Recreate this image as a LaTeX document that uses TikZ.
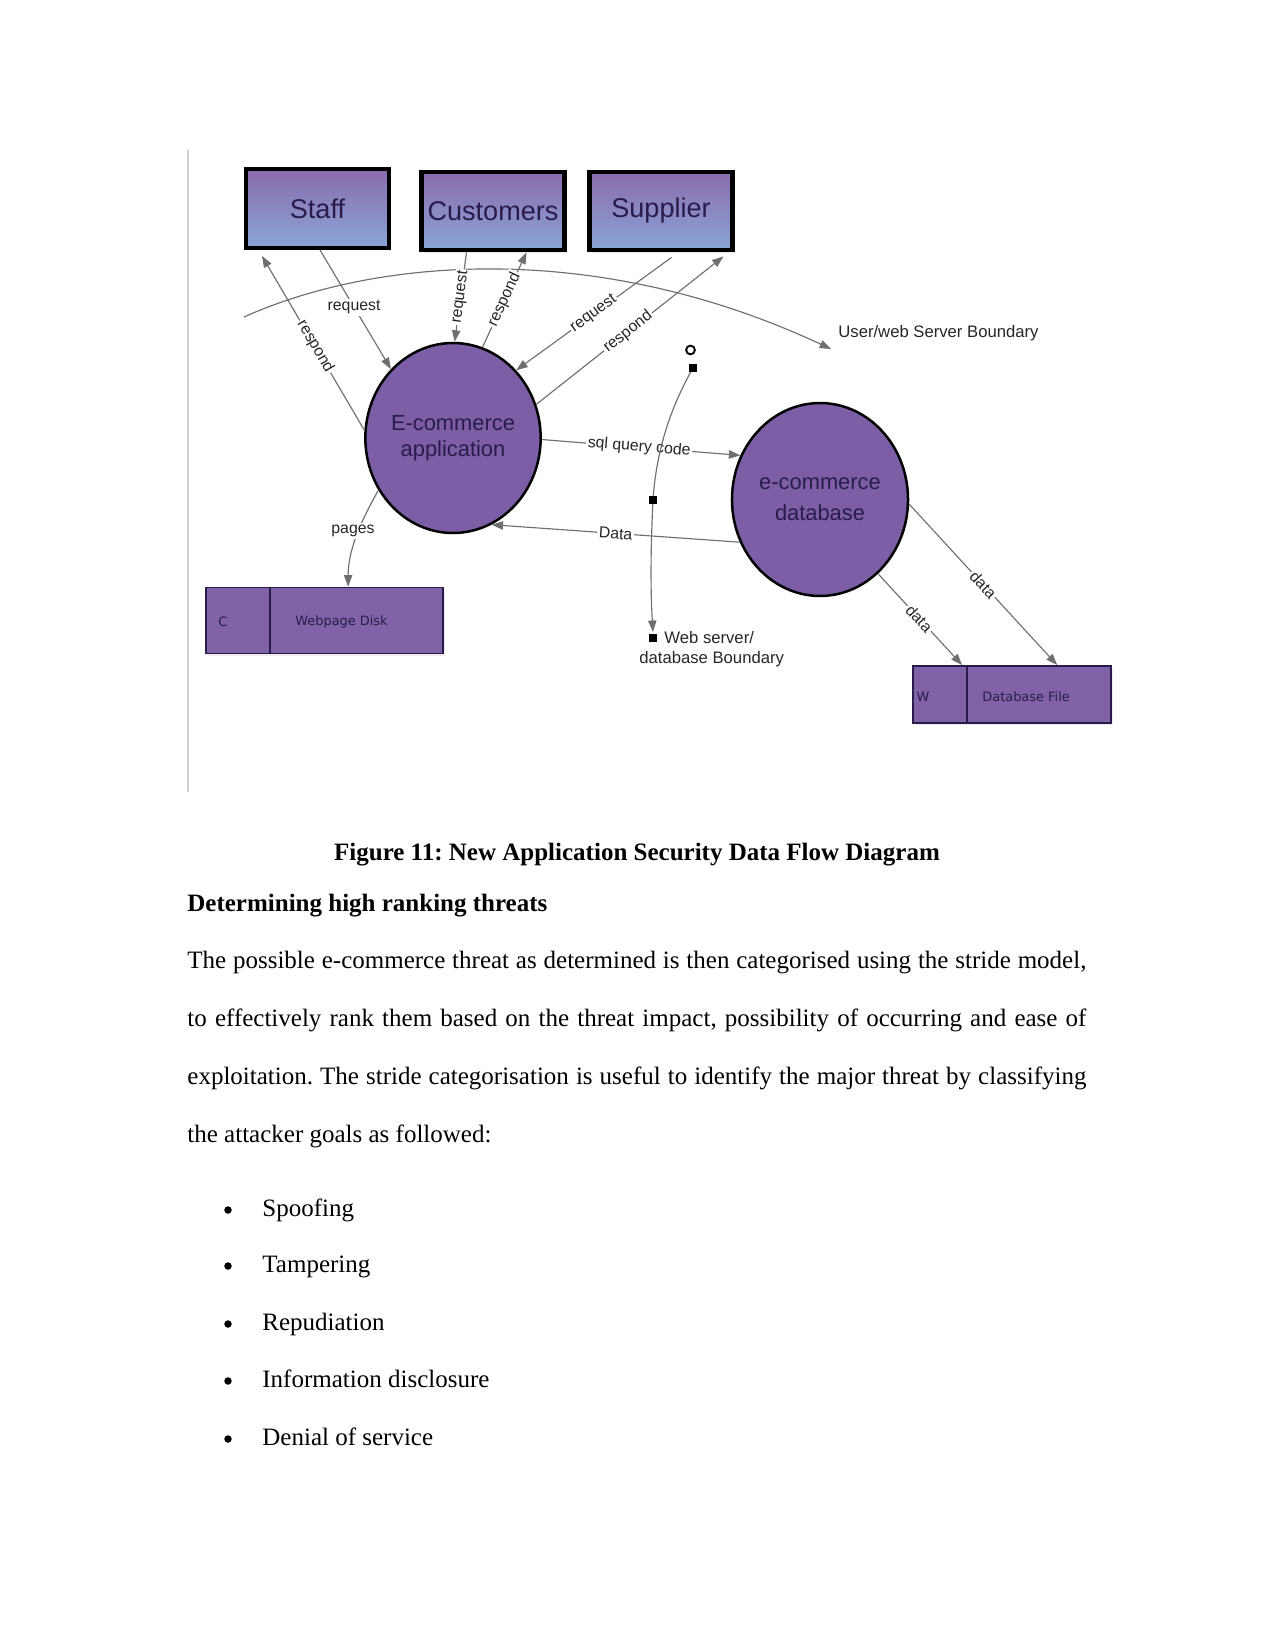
\documentclass[tikz,border=0pt]{standalone}
\usepackage{fontspec}
\setmainfont{Liberation Serif}
\newfontfamily\dsans{Liberation Sans}
\newfontfamily\dvsans{DejaVu Sans}
\usetikzlibrary{shapes.geometric,arrows.meta,calc,shadows}
\definecolor{boxtop}{HTML}{8A6BAE}
\definecolor{boxbot}{HTML}{8AA6D6}
\definecolor{procfill}{HTML}{7C5EA6}
\definecolor{storefill}{HTML}{7F62A8}
\definecolor{darktext}{HTML}{2A1C4A}
\definecolor{flowgray}{HTML}{6F6F6F}
\frenchspacing
\begin{document}
\frenchspacing
\begin{tikzpicture}[x=0.48pt,y=-0.48pt,
  entity/.style={draw=black, line width=2pt, top color=boxtop, bottom color=boxbot,
    minimum width=68.6pt, minimum height=37.8pt, inner sep=0pt,
    font=\dsans\fontsize{13}{15}\selectfont, text=darktext,
    drop shadow={opacity=0.2, shadow xshift=1.2pt, shadow yshift=-1.2pt}},
  proc/.style={ellipse, draw=black, line width=1.2pt, fill=procfill, inner sep=0pt,
    align=center, text=darktext},
  store/.style={draw=darktext, line width=0.8pt, fill=storefill, inner sep=0pt,
    drop shadow={opacity=0.15, shadow xshift=1pt, shadow yshift=-1pt}},
  storetxt/.style={font=\dvsans\fontsize{6.2}{7}\selectfont, text=darktext, inner sep=0pt},
  flow/.style={draw=flowgray, line width=0.55pt, -{Triangle[length=5.5pt,width=4pt]}},
  lbl/.style={font=\dsans\fontsize{7.6}{9}\selectfont, text=black!85, fill=white, inner sep=0.8pt},
  blbl/.style={font=\dsans\fontsize{8}{9.6}\selectfont, text=black!85, inner sep=0pt},
  sqmark/.style={fill=black, inner sep=0pt, minimum size=4pt},
  body/.style={font=\fontsize{12}{14}\selectfont, anchor=base west, inner sep=0pt},
]
\useasboundingbox (0,0) rectangle (1275,1650);

% left rule
\draw[black!18, line width=1pt] (188,150) -- (188,792);

% external entities
\node[entity] (staff) at (317.5,208.5) {Staff};
\node[entity] (cust) at (493,211) {Customers};
\node[entity] (supp) at (661,211) {Supplier};

% processes
\node[proc, minimum width=83.5pt, minimum height=91.2pt,
  font=\dsans\fontsize{10.5}{12.5}\selectfont] (app) at (453,438) {E-commerce\\application};
\node[proc, minimum width=84.5pt, minimum height=92.6pt,
  font=\dsans\fontsize{10.5}{15}\selectfont] (db) at (820,499.5) {e-commerce\\database};

% data stores
\node[store, minimum width=113.8pt, minimum height=31.7pt] (disk) at (324.5,620.5) {};
\draw[darktext, line width=0.8pt] ($(disk.north west)+(65,0)$) -- ($(disk.south west)+(65,0)$);
\node[storetxt] (diskc) at (223,622) {C};
\node[storetxt, anchor=west] (diskname) at (295,622) {Webpage Disk};

\node[store, minimum width=95pt, minimum height=27.4pt] (dbfile) at (1012,694.5) {};
\draw[darktext, line width=0.8pt] ($(dbfile.north west)+(55,0)$) -- ($(dbfile.south west)+(55,0)$);
\node[storetxt] (dbfw) at (923,697) {W};
\node[storetxt, anchor=west] (dbfname) at (982,697) {Database File};

% user/web server boundary
\coordinate (bstart) at (244,317);
\coordinate (bend) at (831,349);
\draw[flow] (bstart) .. controls (380,256) and (600,241) .. (bend);
\node[blbl, anchor=west] (ubl) at (838,333) {User/web Server Boundary};

% flows
\draw[flow] (app.175) -- node[lbl, sloped, pos=0.48] {respond} ($(staff.south west)+(18,6)$);
\draw[flow] ($(staff.south west)+(76,0)$) -- node[lbl, pos=0.48] {request} (app.132);
\draw[flow] ($(cust.south west)+(47,0)$) -- node[lbl, sloped, pos=0.5] {request} (app.89);
\draw[flow] (app.72) -- node[lbl, sloped, pos=0.5] {respond} ($(cust.south west)+(107,0)$);
\draw[flow] ($(supp.south west)+(84,5)$) -- node[lbl, sloped, pos=0.5] {request} (app.47);
\draw[flow] (app.22) -- node[lbl, sloped, pos=0.49] {respond} ($(supp.south west)+(136,4)$);
\draw[flow] (app.-1) -- node[lbl, sloped, pos=0.49] {sql query code} (db.151);
\draw[flow] (db.208) -- node[lbl, sloped, pos=0.5] {Data} (app.-66);
\draw[flow] (app.-145) .. controls +(-14,25) and +(0,-40) .. ($(disk.north west)+(143,0)$);
\node[lbl] (pages) at (353,531) {pages};
\draw[flow] (db.-52) -- node[lbl, sloped, pos=0.49] {data} ($(dbfile.north west)+(50,0)$);
\draw[flow] (db.-3) -- node[lbl, sloped, pos=0.5] {data} ($(dbfile.north west)+(145,0)$);

% web server / database boundary
\coordinate (bq1c) at (693,368);
\coordinate (bq2c) at (653,500);
\draw[flow] (bq1c) .. controls (668,412) and (656,455) .. (bq2c) .. controls (650,560) and (651,600) .. (653,632);
\node[draw, circle, inner sep=0pt, minimum size=4.2pt, line width=0.9pt] (bo) at (690.5,350) {};
\node[sqmark] (bq1) at (bq1c) {};
\node[sqmark] (bq2) at (bq2c) {};
\node[sqmark] (bq3) at (653,638) {};
\node[blbl, align=left, anchor=west] (wbl) at (639,649) {\hspace*{12pt}Web server/\\database Boundary};

% text below
\node[font=\bfseries\fontsize{12}{14}\selectfont, anchor=base, inner sep=0pt] (cap) at (637,860)
  {Figure 11: New Application Security Data Flow Diagram};
\node[body, font=\bfseries\fontsize{12}{14}\selectfont] (head) at (187,911) {Determining high ranking threats};
\node[body] (p1) at (187,968) {\makebox[431.5pt][s]{The possible e-commerce threat as determined is then categorised using the stride model,}};
\node[body] (p2) at (187,1026) {\makebox[431.5pt][s]{to effectively rank them based on the threat impact, possibility of occurring and ease of}};
\node[body] (p3) at (187,1084) {\makebox[431.5pt][s]{exploitation. The stride categorisation is useful to identify the major threat by classifying}};
\node[body] (p4) at (187,1142) {the attacker goals as followed:};

\foreach \t/\yy [count=\i] in {Spoofing/1216, Tampering/1272, Repudiation/1330, Information disclosure/1387, Denial of service/1445} {
  \node[fill=black, circle, inner sep=0pt, minimum size=3.6pt] (bul\i) at (228,\yy-6) {};
  \node[body] (item\i) at (262,\yy) {\t};
}
\end{tikzpicture}
\end{document}
